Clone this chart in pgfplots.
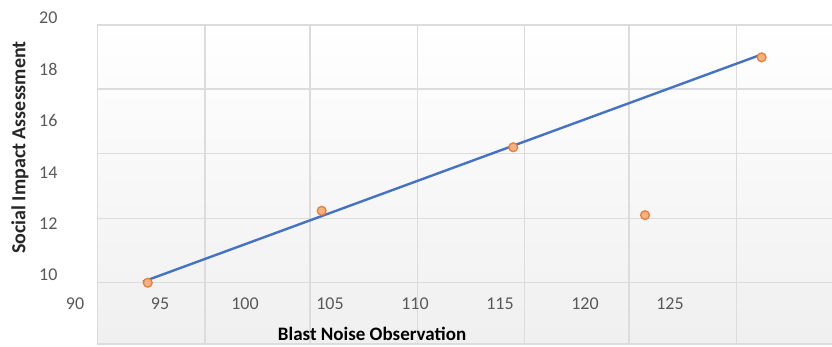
\documentclass[border=0pt]{standalone}
\usepackage{fontspec}
\setmainfont{Carlito}
\usepackage{pgfplots}
\pgfplotsset{compat=1.18}

\definecolor{gridgray}{HTML}{DCDCDC}
\definecolor{lineblue}{HTML}{4472C4}
\definecolor{markorange}{HTML}{ED7D31}
\definecolor{markfill}{HTML}{F4B183}
\definecolor{ticktext}{HTML}{595959}

\begin{document}
\begin{tikzpicture}
\begin{axis}[
  at={(58pt,0pt)}, anchor=south west,
  scale only axis, width=773.5pt, height=329pt,
  xmin=89, xmax=134.5, ymin=7.2, ymax=20,
  set layers, clip=false,
  axis line style={draw=none},
  major tick length=0pt,
  xtick={90,95,...,125}, ytick={10,12,...,20},
  /pgf/number format/assume math mode=true,
  tick label style={font=\fontsize{18}{18}\selectfont, text=ticktext},
  xticklabel style={anchor=center, yshift=43.7pt},
  yticklabel style={xshift=3pt},
  xlabel={Blast Noise Observation},
  ylabel={Social Impact Assessment},
  xlabel style={at={(axis description cs:0.406,0.0394)}, anchor=center,
    font=\bfseries\fontsize{19}{19}\selectfont},
  ylabel style={at={(axis description cs:-0.0491,0.606)}, anchor=center,
    font=\bfseries\fontsize{20}{20}\selectfont, text=black!85},
]
\begin{pgfonlayer}{axis background}
  % plot area with its soft vertical gradient
  \shade[top color=white, bottom color=black!6]
    (axis cs:91.33,7.315) rectangle (axis cs:134.6,19.73);
  % vertical grid lines
  \draw[gridgray, line width=1.3pt] (axis cs:97.65,7.315) -- (axis cs:97.65,19.73);
  \draw[gridgray, line width=1.3pt] (axis cs:103.82,7.315) -- (axis cs:103.82,19.73);
  \draw[gridgray, line width=1.3pt] (axis cs:110.14,7.315) -- (axis cs:110.14,19.73);
  \draw[gridgray, line width=1.3pt] (axis cs:116.45,7.315) -- (axis cs:116.45,19.73);
  \draw[gridgray, line width=1.3pt] (axis cs:122.59,7.315) -- (axis cs:122.59,19.73);
  \draw[gridgray, line width=1.3pt] (axis cs:128.92,7.315) -- (axis cs:128.92,19.73);
  % horizontal grid lines
  \draw[gridgray, line width=1.3pt] (axis cs:91.33,9.72) -- (axis cs:134.6,9.72);
  \draw[gridgray, line width=1.3pt] (axis cs:91.33,12.21) -- (axis cs:134.6,12.21);
  \draw[gridgray, line width=1.3pt] (axis cs:91.33,14.74) -- (axis cs:134.6,14.74);
  \draw[gridgray, line width=1.3pt] (axis cs:91.33,17.24) -- (axis cs:134.6,17.24);
  % outer frame, open on the right
  \draw[gridgray, line width=1.4pt]
    (axis cs:134.6,19.73) -- (axis cs:91.33,19.73) -- (axis cs:91.33,7.315) -- (axis cs:134.6,7.315);
\end{pgfonlayer}

% fitted line
\addplot[lineblue, line width=2.4pt] coordinates {(94.0,9.74) (130.3,18.56)};

% observations
\addplot[only marks, mark=*, mark size=4.4pt,
  mark options={draw=markorange, fill=markfill, line width=1.3pt}]
  coordinates {
    (94.28,9.70)
    (104.51,12.50)
    (115.78,14.97)
    (123.53,12.33)
    (130.39,18.47)
  };
\end{axis}
% fixed page size
\pgfresetboundingbox
\useasboundingbox (0,0) rectangle (832pt,347pt);
\end{tikzpicture}
\end{document}
